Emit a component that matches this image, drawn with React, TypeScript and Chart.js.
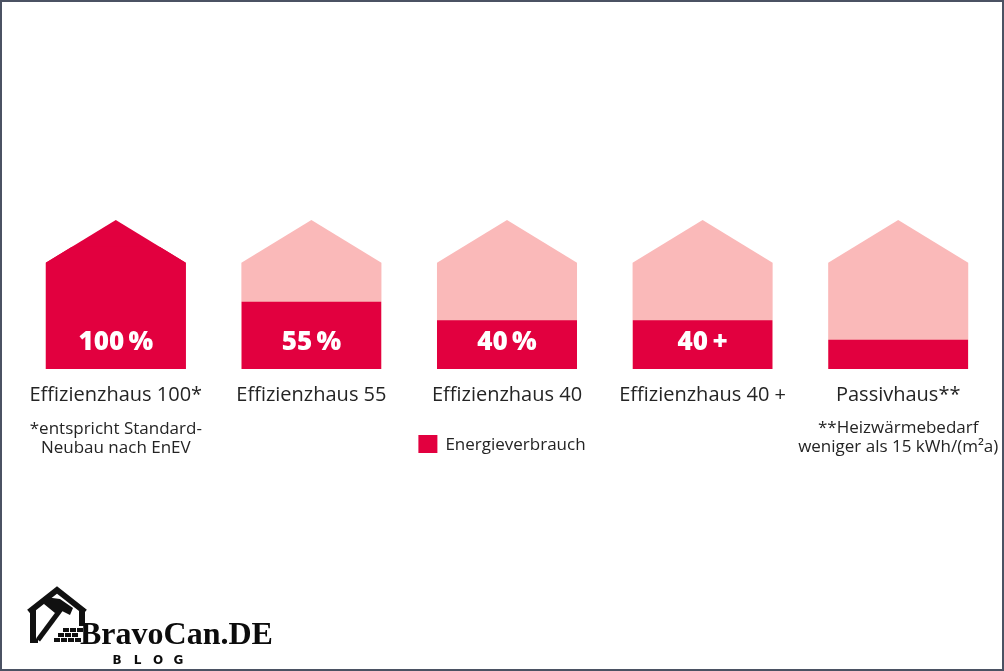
import React, { useEffect, useRef } from "react";
import { Chart, registerables } from "chart.js";

Chart.register(...registerables);

const categories = ["Effizienzhaus 100*", "Effizienzhaus 55", "Effizienzhaus 40", "Effizienzhaus 40 +", "Passivhaus**"];
const energyUse = [100, 55, 40, 40, 24];
const valueLabels = ["100\u2009%", "55\u2009%", "40\u2009%", "40\u2009+", ""];
const seriesName = "Energieverbrauch";
const footnoteFirst = ["*entspricht Standard-", "Neubau nach EnEV"];
const footnoteLast = ["**Heizwärmebedarf", "weniger als 15 kWh/(m²a)"];
const brandName = "BravoCan.DE";
const brandSub = "BLOG";

const HOUSE_EAVES = 87;
const HOUSE_PEAK = 122;
const FULL = 100;
const LABEL_LEVEL = 22;
const CRIMSON = "#e2003f";
const PINK = "#fab9b9";
const TEXT = "#242424";

function housePath(ctx: CanvasRenderingContext2D, x: number, w: number, y0: number, ye: number, yp: number) {
  ctx.moveTo(x - w / 2, y0);
  ctx.lineTo(x - w / 2, ye);
  ctx.lineTo(x, yp);
  ctx.lineTo(x + w / 2, ye);
  ctx.lineTo(x + w / 2, y0);
  ctx.closePath();
}

const housePlugin = {
  id: "houses",
  beforeDatasetsDraw(chart: any) {
    const { ctx, scales } = chart;
    const y = scales.y;
    const meta = chart.getDatasetMeta(0);
    const y0 = y.getPixelForValue(0);
    const ye = y.getPixelForValue(HOUSE_EAVES);
    const yp = y.getPixelForValue(HOUSE_PEAK);
    ctx.save();
    meta.data.forEach((bar: any, i: number) => {
      const { x, width } = bar.getProps(["x", "width"], true);
      ctx.beginPath();
      housePath(ctx, x, width, y0, ye, yp);
      ctx.fillStyle = energyUse[i] >= FULL ? CRIMSON : PINK;
      ctx.fill();
    });
    ctx.restore();
    ctx.save();
    ctx.beginPath();
    meta.data.forEach((bar: any) => {
      const { x, width } = bar.getProps(["x", "width"], true);
      housePath(ctx, x, width, y0, ye, yp);
    });
    ctx.clip();
  },
  afterDatasetsDraw(chart: any) {
    const { ctx, scales } = chart;
    ctx.restore();
    const y = scales.y;
    const meta = chart.getDatasetMeta(0);
    ctx.save();
    ctx.fillStyle = "#ffffff";
    ctx.font = "800 26px 'Open Sans'";
    ctx.textAlign = "center";
    ctx.textBaseline = "middle";
    meta.data.forEach((bar: any, i: number) => {
      const { x } = bar.getProps(["x"], true);
      if (valueLabels[i]) ctx.fillText(valueLabels[i], x, y.getPixelForValue(LABEL_LEVEL));
    });
    ctx.restore();
  },
  afterDraw(chart: any) {
    const { ctx, scales } = chart;
    const xs = scales.x;
    ctx.save();
    ctx.fillStyle = TEXT;
    ctx.font = "17px 'Open Sans'";
    ctx.textAlign = "center";
    ctx.textBaseline = "middle";
    const xa = xs.getPixelForValue(0);
    const xb = xs.getPixelForValue(categories.length - 1);
    footnoteFirst.forEach((t, i) => ctx.fillText(t, xa, 429 + i * 19));
    footnoteLast.forEach((t, i) => ctx.fillText(t, xb, 428 + i * 19));

    // legend
    const ds = chart.data.datasets[0];
    const tw = ctx.measureText(ds.label).width;
    const total = 19 + 8 + tw;
    const lx = chart.width / 2 - total / 2;
    ctx.fillStyle = ds.backgroundColor;
    ctx.fillRect(lx, 435, 19, 18);
    ctx.fillStyle = TEXT;
    ctx.textAlign = "left";
    ctx.fillText(ds.label, lx + 27, 445);

    // logo icon
    ctx.fillStyle = "#111";
    ctx.strokeStyle = "#111";
    ctx.lineWidth = 6;
    ctx.lineJoin = "miter";
    ctx.beginPath();
    ctx.moveTo(29, 612);
    ctx.lineTo(57, 590);
    ctx.lineTo(85, 612);
    ctx.stroke();
    ctx.fillRect(30, 608, 6, 35);
    ctx.fillRect(79, 608, 6, 18);
    // hammer handle
    ctx.lineWidth = 5;
    ctx.lineCap = "butt";
    ctx.beginPath();
    ctx.moveTo(61, 609);
    ctx.lineTo(38, 640);
    ctx.stroke();
    // hammer head
    ctx.beginPath();
    ctx.moveTo(45, 597);
    ctx.lineTo(60, 599);
    ctx.lineTo(73, 608);
    ctx.lineTo(70, 615);
    ctx.lineTo(62, 611);
    ctx.lineTo(55, 613);
    ctx.lineTo(44, 604);
    ctx.closePath();
    ctx.fill();
    // bricks
    const rows = [
      [63, 70, 77],
      [58, 65, 72],
      [54, 61, 68, 75],
    ];
    rows.forEach((r, ri) => {
      r.forEach((bx) => ctx.fillRect(bx, 628 + ri * 5, 6, 4));
    });
    ctx.fillRect(30, 639, 8, 4);

    // brand text
    ctx.fillStyle = "#0c0c0c";
    ctx.font = "bold 32px 'Liberation Serif'";
    ctx.textAlign = "left";
    ctx.textBaseline = "alphabetic";
    ctx.fillText(brandName, 80, 644);
    ctx.font = "bold 12px 'DejaVu Sans'";
    ctx.textBaseline = "middle";
    ctx.textAlign = "center";
    brandSub.split("").forEach((c, i) => ctx.fillText(c, 117 + i * 20.5, 661));

    // frame
    ctx.strokeStyle = "#4b5263";
    ctx.lineWidth = 2;
    ctx.strokeRect(1, 1, chart.width - 2, chart.height - 2);
    ctx.restore();
  },
};

export default function App() {
  const ref = useRef<HTMLCanvasElement | null>(null);
  useEffect(() => {
    if (!ref.current) return;
    const chart = new Chart(ref.current, {
      type: "bar",
      data: {
        labels: categories,
        datasets: [
          {
            label: seriesName,
            data: energyUse,
            backgroundColor: CRIMSON,
            borderWidth: 0,
            categoryPercentage: 1,
            barPercentage: 0.716,
          },
        ],
      },
      options: {
        animation: false,
        responsive: false,
        maintainAspectRatio: false,
        layout: { padding: { top: 220, left: 18, right: 8, bottom: 250 } },
        plugins: { legend: { display: false }, tooltip: { enabled: false } },
        scales: {
          x: {
            grid: { display: false, drawTicks: false },
            border: { display: false },
            ticks: {
              color: TEXT,
              font: { family: "'Open Sans'", size: 20 },
              padding: 14,
              maxRotation: 0,
              autoSkip: false,
            },
          },
          y: { display: false, min: 0, max: HOUSE_PEAK },
        },
      },
      plugins: [housePlugin],
    });
    return () => chart.destroy();
  }, []);
  return (
    <div style={{ position: "fixed", left: 0, top: 0, width: 1004, height: 671, background: "#ffffff" }}>
      <canvas ref={ref} width={1004} height={671} style={{ display: "block" }} />
    </div>
  );
}
